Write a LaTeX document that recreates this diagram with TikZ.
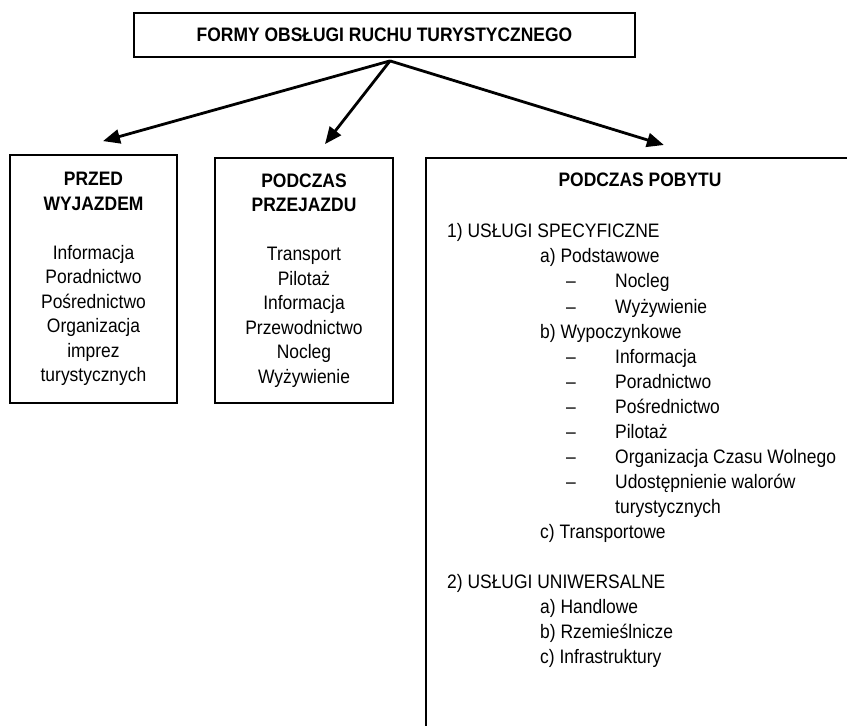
\documentclass[tikz,border=0pt]{standalone}
\usepackage{fontspec}
\setmainfont{Liberation Sans}[FakeStretch=0.895]
\usetikzlibrary{arrows.meta}

\tikzset{
	box/.style={draw, line width=1.8pt, inner sep=0pt, align=center},
	txt/.style={font=\fontsize{19.5}{24.5}\selectfont},
	head/.style={font=\bfseries\fontsize{19.5}{25}\selectfont},
	arr/.style={line width=2.8pt, -{Triangle[length=17pt,width=14pt]}}
}

\begin{document}
\begin{tikzpicture}[x=1pt,y=-1pt]
		\useasboundingbox (0,0) rectangle (847,726);
		\clip (0,0) rectangle (847,726);
		%draw main box
		\node[box, head, minimum width=501pt, minimum height=44pt] (formy) at (384.5,35) {FORMY OBSŁUGI RUCHU TURYSTYCZNEGO};
		%draw the three boxes
		\node[box, txt, minimum width=167pt, minimum height=248pt] (przed) at (93.5,279) {\textbf{PRZED}\\\textbf{WYJAZDEM}\\[24.5pt]Informacja\\Poradnictwo\\Pośrednictwo\\Organizacja\\imprez\\turystycznych};
		\node[box, txt, minimum width=178pt, minimum height=245pt] (przejazd) at (304,280.5) {\textbf{PODCZAS}\\\textbf{PRZEJAZDU}\\[24.5pt]Transport\\Pilotaż\\Informacja\\Przewodnictwo\\Nocleg\\Wyżywienie};
		\node[box, minimum width=430pt, minimum height=620pt, anchor=north west] (pobyt) at (425,157) {};
		%draw labels
		\node[head] (pobytT) at (640,180) {PODCZAS POBYTU};
		\node[txt, align=left, anchor=north west, inner sep=0pt, font=\fontsize{19.5}{25.06}\selectfont] (uslugi) at (447,223.5) {1) USŁUGI SPECYFICZNE\\
			\hspace*{93pt}a) Podstawowe\\
			\hspace*{119pt}\makebox[49pt][l]{–}Nocleg\\
			\hspace*{119pt}\makebox[49pt][l]{–}Wyżywienie\\
			\hspace*{93pt}b) Wypoczynkowe\\
			\hspace*{119pt}\makebox[49pt][l]{–}Informacja\\
			\hspace*{119pt}\makebox[49pt][l]{–}Poradnictwo\\
			\hspace*{119pt}\makebox[49pt][l]{–}Pośrednictwo\\
			\hspace*{119pt}\makebox[49pt][l]{–}Pilotaż\\
			\hspace*{119pt}\makebox[49pt][l]{–}Organizacja Czasu Wolnego\\
			\hspace*{119pt}\makebox[49pt][l]{–}Udostępnienie walorów\\
			\hspace*{168pt}turystycznych\\
			\hspace*{93pt}c) Transportowe\\[25.06pt]
			2) USŁUGI UNIWERSALNE\\
			\hspace*{93pt}a) Handlowe\\
			\hspace*{93pt}b) Rzemieślnicze\\
			\hspace*{93pt}c) Infrastruktury};
		%draw arrows
		\coordinate (hub) at ([shift={(5.5,3)}]formy.south);
		\coordinate (tipA) at ([shift={(9.5,-13)}]przed.north);
		\coordinate (tipB) at ([shift={(21,-13)}]przejazd.north);
		\coordinate (tipC) at ([shift={(23,-12)}]pobyt.north);
		\draw[arr] (hub) -- (tipA);
		\draw[arr] (hub) -- (tipB);
		\draw[arr] (hub) -- (tipC);
	\end{tikzpicture}
\end{document}
